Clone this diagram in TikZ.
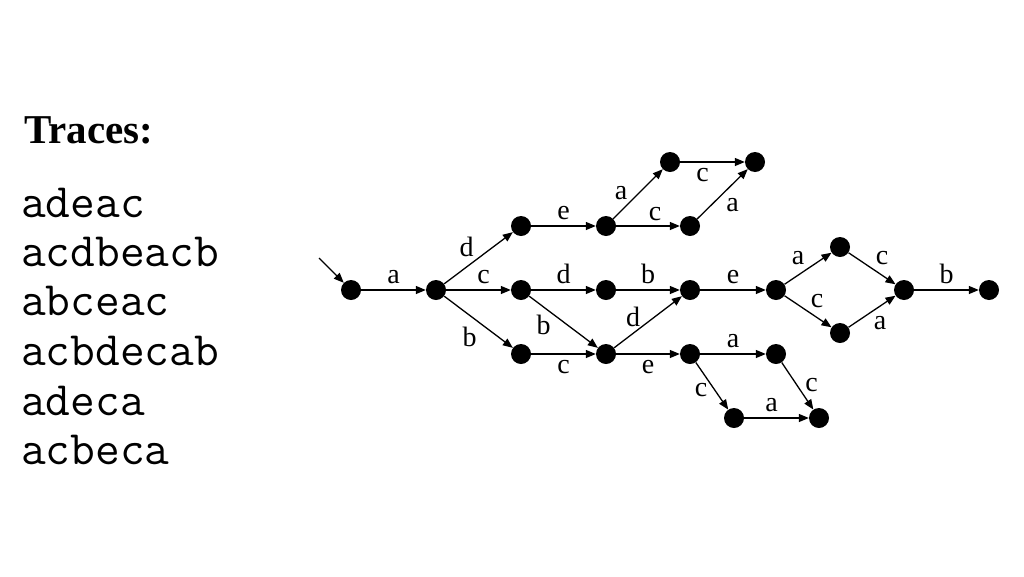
\documentclass[tikz,border=0pt]{standalone}
\usepackage{fontspec}
\setmainfont{Liberation Serif}
\usetikzlibrary{arrows.meta}

\begin{document}
\begin{tikzpicture}[
		x = 1pt, y = -1pt,
		state/.style = {circle, fill = black, minimum size = 20pt, inner sep = 0pt},
		trans/.style = {line width = 1.3pt, -{Triangle[length = 10pt, width = 8pt]}},
		lbl/.style = {font = \fontsize{28}{28}\selectfont, inner sep = 1pt},
		trace/.style = {anchor = base west, inner sep = 0pt, font = \ttfamily\fontsize{48}{48}\selectfont}
	]
	\useasboundingbox (0, 0) rectangle (1024, 576);

	% trace list
	\node [anchor = base west, inner sep = 0pt, font = \fontsize{41}{41}\selectfont\bfseries] (title) at (24, 143) {Traces:};
	\node [trace] (t1) at (21, 217) {adeac};
	\node [trace] (t2) at (21, 266) {acdbeacb};
	\node [trace] (t3) at (21, 315) {abceac};
	\node [trace] (t4) at (21, 365) {acbdecab};
	\node [trace] (t5) at (21, 415) {adeca};
	\node [trace] (t6) at (21, 464) {acbeca};

	% states
	\node [state] (s0) at (351, 290) {};
	\node [state] (s1) at (436, 290) {};
	\node [state] (s2) at (521, 226) {};
	\node [state] (s3) at (521, 290) {};
	\node [state] (s4) at (521, 354) {};
	\node [state] (s5) at (606, 226) {};
	\node [state] (s6) at (606, 290) {};
	\node [state] (s7) at (606, 354) {};
	\node [state] (s8) at (670, 162) {};
	\node [state] (s9) at (755, 162) {};
	\node [state] (s10) at (690, 226) {};
	\node [state] (s11) at (690, 290) {};
	\node [state] (s12) at (690, 354) {};
	\node [state] (s13) at (776, 290) {};
	\node [state] (s14) at (840, 247) {};
	\node [state] (s15) at (840, 333) {};
	\node [state] (s16) at (904, 290) {};
	\node [state] (s17) at (989, 290) {};
	\node [state] (s18) at (776, 354) {};
	\node [state] (s19) at (734, 418) {};
	\node [state] (s20) at (819, 418) {};
	\coordinate (start) at (319, 258);

	% transitions
	\draw [trans] (start) -- (s0);
	\draw [trans] (s0) -- (s1) node [lbl, midway, above = 5pt] {a};
	\draw [trans] (s1) -- (s2) node [lbl, midway, shift = {(-12, -11)}] {d};
	\draw [trans] (s1) -- (s3) node [lbl, midway, above = 5pt, xshift = 5pt] {c};
	\draw [trans] (s1) -- (s4) node [lbl, midway, shift = {(-9, 15)}] {b};
	\draw [trans] (s2) -- (s5) node [lbl, midway, above = 5pt] {e};
	\draw [trans] (s3) -- (s6) node [lbl, midway, above = 5pt] {d};
	\draw [trans] (s3) -- (s7) node [lbl, midway, shift = {(-20, 3)}] {b};
	\draw [trans] (s4) -- (s7) node [lbl, midway, below = 5pt] {c};
	\draw [trans] (s5) -- (s8) node [lbl, midway, shift = {(-17, -1)}] {a};
	\draw [trans] (s5) -- (s10) node [lbl, midway, above = 4pt, xshift = 7pt] {c};
	\draw [trans] (s8) -- (s9) node [lbl, midway, below = 5pt, xshift = -10pt] {c};
	\draw [trans] (s10) -- (s9) node [lbl, midway, shift = {(10, 11)}] {a};
	\draw [trans] (s6) -- (s11) node [lbl, midway, above = 5pt] {b};
	\draw [trans] (s7) -- (s11) node [lbl, midway, shift = {(-15, -5)}] {d};
	\draw [trans] (s7) -- (s12) node [lbl, midway, below = 5pt] {e};
	\draw [trans] (s11) -- (s13) node [lbl, midway, above = 5pt] {e};
	\draw [trans] (s13) -- (s14) node [lbl, midway, shift = {(-10, -10)}] {a};
	\draw [trans] (s13) -- (s15) node [lbl, midway, shift = {(9, -10)}] {c};
	\draw [trans] (s14) -- (s16) node [lbl, midway, shift = {(10, -10)}] {c};
	\draw [trans] (s15) -- (s16) node [lbl, midway, shift = {(8, 12)}] {a};
	\draw [trans] (s16) -- (s17) node [lbl, midway, above = 5pt] {b};
	\draw [trans] (s12) -- (s18) node [lbl, midway, above = 5pt] {a};
	\draw [trans] (s12) -- (s19) node [lbl, midway, shift = {(-11, 4)}] {c};
	\draw [trans] (s18) -- (s20) node [lbl, midway, shift = {(14, -1)}] {c};
	\draw [trans] (s19) -- (s20) node [lbl, midway, above = 5pt, xshift = -5pt] {a};
\end{tikzpicture}
\end{document}
